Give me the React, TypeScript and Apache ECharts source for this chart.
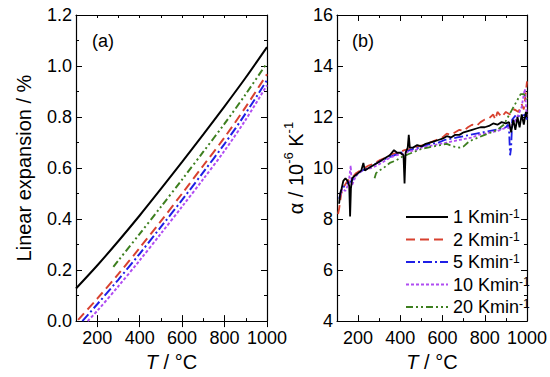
import React, { useEffect, useRef } from 'react';
import * as echarts from 'echarts';

// ---------- data ----------
const rateNames = ['1 Kmin', '2 Kmin', '5 Kmin', '10 Kmin', '20 Kmin'];

const xTicks = [200, 400, 600, 800, 1000];
const yTicksA = [0, 0.2, 0.4, 0.6, 0.8, 1.0, 1.2];
const yTicksB = [4, 6, 8, 10, 12, 14, 16];

// (a) linear expansion / %
const expansion1K = [[100, 0.128], [200, 0.218], [300, 0.314], [400, 0.414], [500, 0.518], [600, 0.624], [700, 0.732], [800, 0.842], [900, 0.955], [1000, 1.074]];
const expansion2K = [[110, 0.005], [200, 0.088], [300, 0.185], [400, 0.287], [500, 0.392], [600, 0.5], [700, 0.61], [800, 0.72], [900, 0.84], [1000, 0.968]];
const expansion5K = [[130, 0.0], [200, 0.066], [300, 0.163], [400, 0.264], [500, 0.369], [600, 0.475], [700, 0.584], [800, 0.695], [900, 0.815], [1000, 0.945]];
const expansion10K = [[155, 0.0], [200, 0.04], [300, 0.137], [400, 0.238], [500, 0.343], [600, 0.449], [700, 0.557], [800, 0.668], [900, 0.79], [1000, 0.925]];
const expansion20K = [[276, 0.213], [300, 0.238], [400, 0.342], [500, 0.448], [600, 0.555], [700, 0.664], [800, 0.774], [900, 0.89], [1000, 1.012]];

// (b) alpha / 1e-6 K^-1
const alpha1K = [[110, 8.6], [115, 9.0], [122, 9.2], [130, 9.5], [140, 9.6], [150, 9.5], [158, 9.3], [162, 8.1], [166, 9.2], [172, 9.6], [185, 9.7], [200, 9.8], [215, 9.9], [225, 10.2], [232, 9.9], [250, 10.0], [270, 10.1], [290, 10.2], [310, 10.3], [330, 10.4], [350, 10.5], [370, 10.7], [385, 10.6], [400, 10.6], [415, 10.5], [420, 9.4], [425, 10.6], [435, 10.8], [440, 11.3], [445, 10.8], [460, 10.8], [480, 10.9], [500, 10.85], [520, 10.95], [540, 11.0], [560, 11.05], [580, 11.1], [600, 11.15], [620, 11.25], [640, 11.2], [660, 11.3], [680, 11.3], [700, 11.4], [720, 11.45], [740, 11.5], [760, 11.55], [780, 11.6], [800, 11.6], [820, 11.65], [840, 11.75], [860, 11.7], [880, 11.8], [900, 11.75], [915, 11.8], [925, 11.4], [935, 11.9], [945, 11.5], [955, 12.0], [965, 11.6], [975, 12.1], [985, 11.7], [995, 12.2], [1000, 12.0]];
const alpha2K = [[105, 8.2], [110, 8.4], [120, 9.0], [135, 9.3], [150, 9.5], [170, 9.6], [190, 9.8], [210, 9.9], [230, 10.0], [250, 10.1], [270, 10.15], [300, 10.3], [330, 10.4], [360, 10.55], [390, 10.6], [420, 10.7], [450, 10.75], [480, 10.85], [510, 10.9], [540, 11.0], [570, 11.1], [600, 11.2], [620, 11.35], [640, 11.3], [660, 11.4], [680, 11.5], [700, 11.45], [720, 11.6], [740, 11.7], [760, 11.65], [780, 11.8], [800, 11.9], [820, 11.95], [840, 12.1], [850, 11.9], [860, 12.2], [880, 12.0], [900, 12.2], [920, 12.1], [940, 12.3], [960, 12.2], [975, 12.5], [985, 12.3], [995, 13.0], [1000, 13.4]];
const alpha5K = [[110, 8.8], [120, 9.1], [135, 9.3], [150, 9.4], [170, 9.5], [190, 9.7], [210, 9.85], [230, 9.95], [250, 10.0], [280, 10.15], [310, 10.3], [340, 10.4], [370, 10.5], [400, 10.6], [430, 10.65], [460, 10.75], [490, 10.8], [520, 10.9], [550, 10.95], [580, 11.0], [610, 11.1], [640, 11.15], [670, 11.2], [700, 11.25], [730, 11.3], [760, 11.35], [790, 11.4], [820, 11.45], [850, 11.5], [880, 11.55], [900, 11.6], [910, 11.7], [915, 11.5], [920, 10.5], [925, 10.8], [930, 11.9], [950, 12.1], [970, 12.0], [990, 12.1], [1000, 11.9]];
const alpha10K = [[115, 8.9], [125, 9.2], [140, 9.1], [155, 9.4], [165, 10.1], [170, 9.3], [185, 9.6], [200, 9.8], [220, 9.9], [240, 9.95], [260, 10.0], [290, 10.1], [320, 10.25], [350, 10.4], [380, 10.5], [410, 10.55], [440, 10.65], [470, 10.7], [500, 10.8], [530, 10.85], [560, 10.9], [590, 10.95], [620, 11.0], [650, 11.05], [680, 11.1], [710, 11.15], [740, 11.2], [770, 11.3], [800, 11.35], [830, 11.4], [860, 11.45], [890, 11.55], [920, 11.6], [940, 11.8], [960, 12.1], [975, 12.4], [985, 12.9], [990, 13.1], [995, 12.5], [1000, 12.0]];
const alpha20K = [[278, 9.6], [285, 9.8], [300, 9.9], [320, 10.0], [350, 10.2], [380, 10.3], [410, 10.45], [440, 10.55], [470, 10.65], [500, 10.75], [530, 10.8], [560, 10.85], [590, 10.9], [620, 10.95], [650, 10.85], [680, 10.8], [700, 10.85], [720, 11.0], [740, 11.1], [770, 11.2], [800, 11.3], [830, 11.4], [860, 11.5], [890, 11.7], [910, 12.0], [930, 12.3], [950, 12.6], [970, 12.9], [985, 12.9], [1000, 12.7]];

const expansionSets = [expansion1K, expansion2K, expansion5K, expansion10K, expansion20K];
const alphaSets = [alpha1K, alpha2K, alpha5K, alpha10K, alpha20K];

// ---------- styles ----------
const colors = ['#000000', '#d8412f', '#1f1fe6', '#b04cf2', '#3d7f1f'];
const dashes: any[] = ['solid', [9, 5], [9, 3, 2, 3], [3, 2], [7, 3, 2, 3, 2, 3]];
const FONT = '"Liberation Sans", Arial, Helvetica, sans-serif';

function makeXAxes(gridIndex: number) {
  const base = { type: 'value', gridIndex, min: 100, max: 1000, interval: 100, splitLine: { show: false } };
  const line = { show: true, onZero: false, lineStyle: { color: '#000', width: 1.2 } };
  return [
    {
      ...base, position: 'bottom', axisLine: line,
      axisTick: { show: true, inside: true, length: 3, lineStyle: { color: '#000' } },
      axisLabel: { customValues: xTicks, formatter: (v: number) => String(v), color: '#000', fontSize: 18, fontFamily: FONT, margin: 8 },
      name: '{i|T} / °C', nameLocation: 'middle', nameGap: 21,
      nameTextStyle: { color: '#000', fontSize: 20, fontFamily: FONT, rich: { i: { fontStyle: 'italic', fontSize: 20, fontFamily: FONT, color: '#000' } } },
    },
    {
      ...base, position: 'bottom', axisLine: { show: false },
      axisTick: { show: true, inside: true, length: 6, customValues: xTicks, lineStyle: { color: '#000' } },
      axisLabel: { show: false },
    },
    {
      ...base, position: 'top', axisLine: line,
      axisTick: { show: true, inside: true, length: 3, lineStyle: { color: '#000' } },
      axisLabel: { show: false },
    },
    {
      ...base, position: 'top', axisLine: { show: false },
      axisTick: { show: true, inside: true, length: 6, customValues: xTicks, lineStyle: { color: '#000' } },
      axisLabel: { show: false },
    },
  ];
}

function makeYAxes(gridIndex: number, min: number, max: number, interval: number, ticks: number[], fmt: (v: number) => string, name: string, nameGap: number, rich: any) {
  const base = { type: 'value', gridIndex, min, max, interval, splitLine: { show: false } };
  const line = { show: true, onZero: false, lineStyle: { color: '#000', width: 1.2 } };
  return [
    {
      ...base, position: 'left', axisLine: line,
      axisTick: { show: true, inside: true, length: 3, lineStyle: { color: '#000' } },
      axisLabel: { customValues: ticks, formatter: fmt, color: '#000', fontSize: 18, fontFamily: FONT, margin: 4 },
      name, nameLocation: 'middle', nameGap,
      nameTextStyle: { color: '#000', fontSize: 20, fontFamily: FONT, rich },
    },
    {
      ...base, position: 'left', axisLine: { show: false },
      axisTick: { show: true, inside: true, length: 6, customValues: ticks, lineStyle: { color: '#000' } },
      axisLabel: { show: false },
    },
    {
      ...base, position: 'right', axisLine: line,
      axisTick: { show: true, inside: true, length: 3, lineStyle: { color: '#000' } },
      axisLabel: { show: false },
    },
    {
      ...base, position: 'right', axisLine: { show: false },
      axisTick: { show: true, inside: true, length: 6, customValues: ticks, lineStyle: { color: '#000' } },
      axisLabel: { show: false },
    },
  ];
}

export default function App() {
  const ref = useRef<HTMLDivElement>(null);
  useEffect(() => {
    if (!ref.current) return;
    const chart = echarts.init(ref.current, undefined, { renderer: 'svg' });

    const seriesA = expansionSets.map((d, i) => ({
      name: rateNames[i], type: 'line', xAxisIndex: 0, yAxisIndex: 0, data: d,
      showSymbol: false, symbol: 'none', smooth: 0.3, clip: true,
      lineStyle: { color: colors[i], width: 2, type: dashes[i] }, itemStyle: { color: colors[i] },
      z: i === 0 ? 5 : 3,
    }));
    const seriesB = alphaSets.map((d, i) => ({
      name: rateNames[i], type: 'line', xAxisIndex: 4, yAxisIndex: 4, data: d,
      showSymbol: false, symbol: 'none', clip: true,
      lineStyle: { color: colors[i], width: 1.8, type: dashes[i] }, itemStyle: { color: colors[i] },
      z: i === 0 ? 5 : 3,
    }));

    const option: any = {
      animation: false,
      backgroundColor: '#ffffff',
      grid: [
        { left: 76, top: 15, width: 191, height: 308 },
        { left: 337, top: 15, width: 190, height: 308 },
      ],
      xAxis: [...makeXAxes(0), ...makeXAxes(1)],
      yAxis: [
        ...makeYAxes(0, 0, 1.2, 0.1, yTicksA, (v: number) => v.toFixed(1), 'Linear expansion / %', 42, {}),
        ...makeYAxes(1, 4, 16, 1, yTicksB, (v: number) => String(Math.round(v)), '{n|α / 10}{s|-6}{n| K}{s|-1}', 31, {
          n: { fontSize: 20, fontFamily: FONT, color: '#000', verticalAlign: 'bottom', lineHeight: 24 },
          s: { fontSize: 13, fontFamily: FONT, color: '#000', verticalAlign: 'top', lineHeight: 24 },
        }),
      ],
      legend: {
        data: rateNames,
        orient: 'vertical', left: 400, top: 203,
        itemWidth: 42, itemHeight: 12, itemGap: 4.5,
        itemStyle: { opacity: 0 },
        formatter: (name: string) => `{a|${name}}{s|-1}`,
        textStyle: {
          color: '#000', fontSize: 18, fontFamily: FONT,
          rich: {
            a: { fontSize: 18, fontFamily: FONT, color: '#000', verticalAlign: 'bottom', lineHeight: 18 },
            s: { fontSize: 12, fontFamily: FONT, color: '#000', verticalAlign: 'top', lineHeight: 18 },
          },
        },
        selectedMode: false,
      },
      graphic: [
        { type: 'text', left: 92, top: 32, style: { text: '(a)', fontSize: 18, fontFamily: FONT, fill: '#000' } },
        { type: 'text', left: 352, top: 32, style: { text: '(b)', fontSize: 18, fontFamily: FONT, fill: '#000' } },
      ],
      series: [...seriesA, ...seriesB],
    };
    chart.setOption(option);
    return () => chart.dispose();
  }, []);
  return <div ref={ref} style={{ position: 'fixed', left: 0, top: 0, width: 550, height: 377, background: '#fff' }} />;
}
